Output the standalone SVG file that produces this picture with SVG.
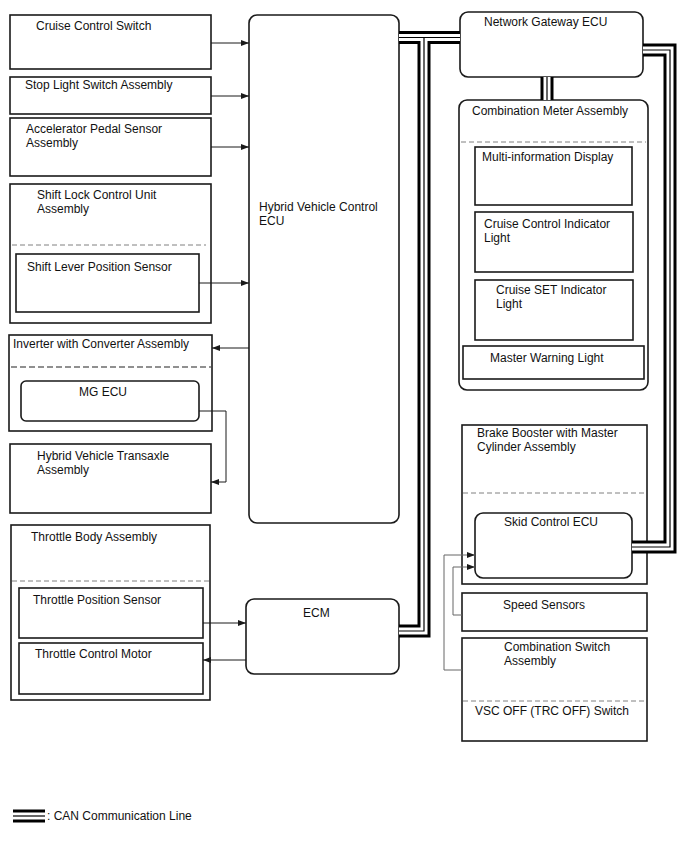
<svg xmlns="http://www.w3.org/2000/svg" width="688" height="852" viewBox="0 0 688 852">
<defs>
<marker id="arr" markerUnits="userSpaceOnUse" markerWidth="9" markerHeight="7" refX="8" refY="3" orient="auto">
<path d="M0,0 L8,3 L0,6 z" fill="#1a1a1a"/>
</marker>
</defs>
<style>
.box{fill:#fff;stroke:#1a1a1a;stroke-width:1.6}
.t{font-family:"Liberation Sans",Arial,sans-serif;font-size:12px;fill:#111}
.dash{stroke:#808080;stroke-width:1;stroke-dasharray:5,3;fill:none}
.dashk{stroke:#222;stroke-width:1.2;stroke-dasharray:6,3;fill:none}
.ln{fill:none;stroke:#1a1a1a;stroke-width:1;marker-end:url(#arr)}
.lg{fill:none;stroke:#666;stroke-width:1;marker-end:url(#arr)}
.canA{fill:none;stroke:#000;stroke-width:13;stroke-linejoin:miter}
.canB{fill:none;stroke:#fff;stroke-width:7;stroke-linejoin:miter}
.canC{fill:none;stroke:#000;stroke-width:1.2;stroke-linejoin:miter}
</style>
<rect width="688" height="852" fill="#fff"/>

<g id="cruise-control-switch">
<rect class="box" x="10" y="15" width="201" height="54"/>
<text class="t" x="36" y="30">Cruise Control Switch</text>
</g>
<g id="stop-light-switch">
<rect class="box" x="10" y="77" width="201" height="37"/>
<text class="t" x="25" y="89">Stop Light Switch Assembly</text>
</g>
<g id="accelerator-pedal-sensor">
<rect class="box" x="10" y="118" width="201" height="58"/>
<text class="t" x="26" y="133">Accelerator Pedal Sensor</text>
<text class="t" x="26" y="147">Assembly</text>
</g>
<g id="shift-lock-control-unit">
<rect class="box" x="10" y="184" width="201" height="139"/>
<text class="t" x="37" y="199">Shift Lock Control Unit</text>
<text class="t" x="37" y="213">Assembly</text>
<line class="dash" x1="12" y1="245" x2="206" y2="245"/>
</g>
<g id="shift-lever-position-sensor">
<rect class="box" x="16" y="254" width="183" height="58"/>
<text class="t" x="27" y="271">Shift Lever Position Sensor</text>
</g>
<g id="inverter">
<rect class="box" x="9" y="335" width="203" height="96"/>
<text class="t" x="13" y="348">Inverter with Converter Assembly</text>
<line class="dashk" x1="11" y1="367" x2="211" y2="367"/>
</g>
<g id="mg-ecu">
<rect class="box" x="21" y="381" width="178" height="40" rx="5"/>
<text class="t" x="79" y="396">MG ECU</text>
</g>
<g id="hv-transaxle">
<rect class="box" x="10" y="444" width="201" height="69"/>
<text class="t" x="37" y="460">Hybrid Vehicle Transaxle</text>
<text class="t" x="37" y="474">Assembly</text>
</g>
<g id="throttle-body">
<rect class="box" x="11" y="525" width="199" height="175"/>
<text class="t" x="31" y="541">Throttle Body Assembly</text>
<line class="dash" x1="12" y1="581" x2="209" y2="581"/>
</g>
<g id="throttle-position-sensor">
<rect class="box" x="19" y="588" width="184" height="50"/>
<text class="t" x="33" y="604">Throttle Position Sensor</text>
</g>
<g id="throttle-control-motor">
<rect class="box" x="19" y="643" width="184" height="51"/>
<text class="t" x="35" y="658">Throttle Control Motor</text>
</g>
<g id="hv-control-ecu">
<rect class="box" x="249" y="15" width="150" height="508" rx="8"/>
<text class="t" x="259" y="211">Hybrid Vehicle Control</text>
<text class="t" x="259" y="225">ECU</text>
</g>
<g id="ecm">
<rect class="box" x="246" y="599" width="153" height="75" rx="8"/>
<text class="t" x="303" y="617">ECM</text>
</g>
<g id="network-gateway-ecu">
<rect class="box" x="460" y="12" width="183" height="65" rx="8"/>
<text class="t" x="484" y="26">Network Gateway ECU</text>
</g>
<g id="combination-meter">
<rect class="box" x="459" y="100" width="189" height="290" rx="8"/>
<text class="t" x="472" y="115">Combination Meter Assembly</text>
<line class="dash" x1="461" y1="142" x2="646" y2="142"/>
</g>
<g id="multi-information-display">
<rect class="box" x="475" y="147" width="157" height="58"/>
<text class="t" x="482" y="161">Multi-information Display</text>
</g>
<g id="cruise-control-indicator">
<rect class="box" x="475" y="212" width="158" height="60"/>
<text class="t" x="484" y="228">Cruise Control Indicator</text>
<text class="t" x="484" y="242">Light</text>
</g>
<g id="cruise-set-indicator">
<rect class="box" x="475" y="280" width="158" height="60"/>
<text class="t" x="496" y="294">Cruise SET Indicator</text>
<text class="t" x="496" y="308">Light</text>
</g>
<g id="master-warning-light">
<rect class="box" x="463" y="346" width="181" height="33"/>
<text class="t" x="490" y="362">Master Warning Light</text>
</g>
<g id="brake-booster">
<rect class="box" x="462" y="425" width="185" height="159"/>
<text class="t" x="477" y="437">Brake Booster with Master</text>
<text class="t" x="477" y="451">Cylinder Assembly</text>
<line class="dash" x1="463" y1="493" x2="646" y2="493"/>
</g>
<g id="skid-control-ecu">
<rect class="box" x="475" y="513" width="157" height="65" rx="8"/>
<text class="t" x="504" y="526">Skid Control ECU</text>
</g>
<g id="speed-sensors">
<rect class="box" x="462" y="593" width="185" height="38"/>
<text class="t" x="503" y="609">Speed Sensors</text>
</g>
<g id="combination-switch">
<rect class="box" x="462" y="638" width="185" height="103"/>
<text class="t" x="504" y="651">Combination Switch</text>
<text class="t" x="504" y="665">Assembly</text>
<line class="dash" x1="463" y1="701" x2="646" y2="701"/>
<text class="t" x="475" y="715">VSC OFF (TRC OFF) Switch</text>
</g>

<g id="connectors">
<path class="ln" d="M211,43 H249"/>
<path class="ln" d="M211,96 H249"/>
<path class="ln" d="M211,147 H249"/>
<path class="ln" d="M199,283 H249"/>
<path class="ln" d="M249,348 H212"/>
<path class="ln" d="M199,411 H226 V482 H211"/>
<path class="ln" d="M203,623 H246"/>
<path class="ln" d="M246,660 H203"/>
<path class="lg" d="M462,670 H444 V555 H475"/>
<path class="lg" d="M462,615 H453 V567 H475"/>
<g id="can">
<path class="canA" d="M399,37.5 H460"/>
<path class="canA" d="M424,37.5 V631 H399"/>
<path class="canA" d="M643,50 H670 V547 H632"/>
<path class="canA" d="M547,77 V100"/>
<path class="canB" d="M399,37.5 H460"/>
<path class="canB" d="M424,37.5 V631 H399"/>
<path class="canB" d="M643,50 H670 V547 H632"/>
<path class="canB" d="M547,77 V100"/>
<path class="canC" d="M399,37.5 H460"/>
<path class="canC" d="M424,37.5 V631 H399"/>
<path class="canC" d="M643,50 H670 V547 H632"/>
<path class="canC" d="M547,77 V100"/>
</g>
</g>

<g id="legend">
<path class="canA" d="M13,816 H45"/>
<path class="canB" d="M13,816 H45"/>
<path class="canC" d="M13,816 H45"/>
<text class="t" x="47" y="820">: CAN Communication Line</text>
</g>
</svg>
